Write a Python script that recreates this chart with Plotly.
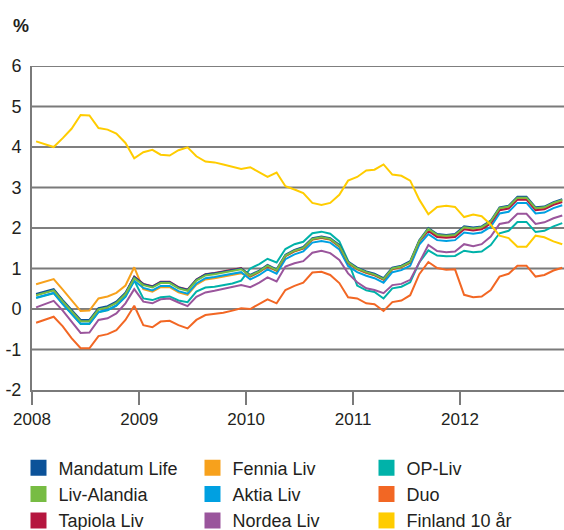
import plotly.graph_objects as go

# ---- data (monthly, Jan 2008 - Dec 2012) ----
years = [2008, 2009, 2010, 2011, 2012]
year_labels = ["2008", "2009", "2010", "2011", "2012"]
months = [f"{y}-{m:02d}-15" for y in years for m in range(1, 13)]

mandatum = [0.37, 0.43, 0.49, 0.22, -0.03, -0.27, -0.27, 0.02, 0.07, 0.18, 0.40, 0.79,
            0.61, 0.55, 0.66, 0.66, 0.53, 0.47, 0.72, 0.85, 0.88, 0.92, 0.95, 1.00,
            0.84, 0.95, 1.09, 0.98, 1.34, 1.46, 1.53, 1.75, 1.79, 1.75, 1.58, 1.17,
            1.02, 0.93, 0.87, 0.76, 1.02, 1.07, 1.18, 1.70, 2.00, 1.85, 1.83, 1.85,
            2.04, 2.01, 2.04, 2.18, 2.51, 2.55, 2.77, 2.77, 2.51, 2.53, 2.64, 2.71]
liv_alandia = [0.34, 0.40, 0.46, 0.19, -0.06, -0.30, -0.30, -0.01, 0.04, 0.15, 0.37, 0.76,
               0.59, 0.53, 0.64, 0.64, 0.51, 0.45, 0.70, 0.83, 0.86, 0.90, 0.93, 0.98,
               0.82, 0.93, 1.07, 0.96, 1.32, 1.44, 1.51, 1.73, 1.77, 1.73, 1.56, 1.15,
               1.00, 0.91, 0.85, 0.74, 1.00, 1.05, 1.16, 1.68, 1.98, 1.83, 1.81, 1.83,
               2.02, 1.99, 2.02, 2.16, 2.49, 2.53, 2.75, 2.75, 2.49, 2.51, 2.62, 2.69]
tapiola = [0.35, 0.41, 0.47, 0.20, -0.05, -0.29, -0.29, 0.00, 0.05, 0.16, 0.38, 0.80,
           0.62, 0.56, 0.67, 0.67, 0.54, 0.48, 0.73, 0.86, 0.89, 0.93, 0.96, 1.01,
           0.81, 0.92, 1.06, 0.95, 1.31, 1.43, 1.50, 1.72, 1.76, 1.72, 1.55, 1.14,
           0.99, 0.90, 0.84, 0.73, 0.99, 1.04, 1.15, 1.67, 1.93, 1.78, 1.76, 1.78,
           1.97, 1.94, 1.97, 2.11, 2.44, 2.48, 2.70, 2.70, 2.44, 2.46, 2.57, 2.64]
fennia = [0.61, 0.68, 0.74, 0.48, 0.22, -0.05, -0.04, 0.26, 0.31, 0.40, 0.58, 1.03,
          0.49, 0.43, 0.54, 0.54, 0.41, 0.35, 0.60, 0.73, 0.76, 0.80, 0.83, 0.88,
          0.80, 0.91, 1.05, 0.94, 1.30, 1.42, 1.49, 1.71, 1.75, 1.71, 1.54, 1.13,
          0.98, 0.89, 0.83, 0.72, 0.98, 1.03, 1.14, 1.66, 1.96, 1.81, 1.79, 1.81,
          2.00, 1.97, 2.00, 2.14, 2.47, 2.51, 2.73, 2.73, 2.47, 2.49, 2.60, 2.67]
aktia = [0.28, 0.34, 0.40, 0.13, -0.12, -0.36, -0.36, -0.07, -0.02, 0.09, 0.31, 0.70,
         0.52, 0.46, 0.57, 0.57, 0.44, 0.38, 0.63, 0.76, 0.79, 0.83, 0.86, 0.91,
         0.73, 0.84, 0.98, 0.87, 1.23, 1.35, 1.42, 1.64, 1.68, 1.64, 1.47, 1.06,
         0.91, 0.82, 0.76, 0.65, 0.91, 0.96, 1.07, 1.59, 1.85, 1.70, 1.68, 1.70,
         1.89, 1.86, 1.89, 2.03, 2.36, 2.40, 2.62, 2.62, 2.36, 2.38, 2.49, 2.56]
op_liv = [0.27, 0.33, 0.39, 0.12, -0.13, -0.37, -0.37, -0.08, -0.03, 0.08, 0.30, 0.70,
          0.26, 0.22, 0.29, 0.31, 0.21, 0.17, 0.43, 0.53, 0.55, 0.59, 0.63, 0.70,
          1.00, 1.11, 1.24, 1.15, 1.48, 1.60, 1.66, 1.87, 1.91, 1.86, 1.67, 1.19,
          0.58, 0.46, 0.42, 0.26, 0.51, 0.55, 0.66, 1.15, 1.45, 1.32, 1.30, 1.31,
          1.44, 1.40, 1.42, 1.58, 1.87, 1.93, 2.15, 2.15, 1.90, 1.93, 2.04, 2.12]
duo = [-0.34, -0.27, -0.19, -0.43, -0.72, -0.97, -0.97, -0.67, -0.62, -0.52, -0.27, 0.08,
       -0.40, -0.45, -0.31, -0.29, -0.40, -0.48, -0.27, -0.15, -0.12, -0.09, -0.04, 0.02,
       0.00, 0.12, 0.24, 0.14, 0.47, 0.57, 0.65, 0.90, 0.92, 0.84, 0.64, 0.29,
       0.26, 0.14, 0.12, -0.05, 0.17, 0.21, 0.34, 0.86, 1.16, 1.01, 0.97, 0.98,
       0.35, 0.29, 0.31, 0.47, 0.80, 0.87, 1.07, 1.07, 0.80, 0.84, 0.95, 1.02]
nordea = [0.04, 0.12, 0.20, -0.04, -0.30, -0.59, -0.58, -0.27, -0.23, -0.11, 0.14, 0.49,
          0.18, 0.14, 0.24, 0.26, 0.16, 0.07, 0.30, 0.41, 0.45, 0.49, 0.54, 0.59,
          0.54, 0.65, 0.78, 0.68, 1.05, 1.13, 1.18, 1.39, 1.44, 1.38, 1.21, 0.88,
          0.66, 0.51, 0.47, 0.39, 0.59, 0.62, 0.72, 1.17, 1.58, 1.43, 1.40, 1.42,
          1.60, 1.55, 1.60, 1.79, 2.10, 2.14, 2.35, 2.35, 2.10, 2.14, 2.24, 2.31]
finland10 = [4.14, 4.07, 4.00, 4.22, 4.45, 4.79, 4.78, 4.47, 4.43, 4.33, 4.10, 3.72,
             3.87, 3.93, 3.81, 3.79, 3.92, 3.99, 3.77, 3.64, 3.62, 3.57, 3.52, 3.46,
             3.50, 3.37, 3.26, 3.37, 3.03, 2.95, 2.86, 2.62, 2.57, 2.62, 2.82, 3.17,
             3.26, 3.42, 3.44, 3.57, 3.32, 3.29, 3.17, 2.70, 2.34, 2.52, 2.55, 2.52,
             2.27, 2.33, 2.29, 2.08, 1.81, 1.75, 1.54, 1.54, 1.81, 1.77, 1.67, 1.60]

y_ticks = [-2, -1, 0, 1, 2, 3, 4, 5, 6]

series = {
    "Mandatum Life": (mandatum, "#0b5299"),
    "Liv-Alandia": (liv_alandia, "#77bc43"),
    "Tapiola Liv": (tapiola, "#b5163f"),
    "Fennia Liv": (fennia, "#f7a11c"),
    "Aktia Liv": (aktia, "#00a0e1"),
    "OP-Liv": (op_liv, "#00b2a9"),
    "Duo": (duo, "#f26724"),
    "Nordea Liv": (nordea, "#9a559c"),
    "Finland 10 år": (finland10, "#ffcc00"),
}

draw_order = ["OP-Liv", "Duo", "Nordea Liv", "Fennia Liv", "Aktia Liv",
              "Tapiola Liv", "Mandatum Life", "Liv-Alandia", "Finland 10 år"]
legend_order = ["Mandatum Life", "Fennia Liv", "OP-Liv",
                "Liv-Alandia", "Aktia Liv", "Duo",
                "Tapiola Liv", "Nordea Liv", "Finland 10 år"]

fig = go.Figure()
for name in draw_order:
    vals, col = series[name]
    fig.add_trace(go.Scatter(x=months, y=vals, mode="lines", name=name,
                             line=dict(color=col, width=2), showlegend=False,
                             hoverinfo="skip"))
for name in legend_order:
    vals, col = series[name]
    fig.add_trace(go.Scatter(x=[None], y=[None], mode="markers", name=name,
                             marker=dict(symbol="square", size=16, color=col),
                             showlegend=True))

# alternating grid lines
shapes = []
for v in y_ticks:
    if v == -2:
        continue
    if v % 2 == 0:
        shapes.append(dict(type="line", xref="paper", x0=0, x1=1, yref="y", y0=v, y1=v,
                           line=dict(color="#000000", width=1.2), layer="below"))
    else:
        shapes.append(dict(type="line", xref="paper", x0=0, x1=1, yref="y", y0=v, y1=v,
                           line=dict(color="#7a7a7a", width=2), layer="below"))

fig.update_layout(
    width=564, height=530,
    margin=dict(l=32, r=0, t=66, b=140, autoexpand=False),
    paper_bgcolor="white", plot_bgcolor="white",
    font=dict(family="Liberation Sans, Arial, sans-serif", size=17, color="#231f20"),
    shapes=shapes,
    showlegend=True,
    legend=dict(orientation="h", xref="container", yref="container",
                x=0.0328, y=0.152, xanchor="left", yanchor="top",
                entrywidth=129, entrywidthmode="pixels",
                font=dict(size=18, color="#231f20"), itemsizing="trace",
                bgcolor="rgba(0,0,0,0)"),
    annotations=[dict(text="<b>%</b>", xref="paper", yref="paper",
                      x=-0.040, y=1.125, xanchor="left", yanchor="middle",
                      showarrow=False, font=dict(size=18, color="#231f20"))],
)
fig.update_xaxes(type="date", range=["2008-01-01", "2012-12-21"],
                 tickvals=[f"{y}-01-01" for y in years], ticktext=year_labels,
                 ticks="outside", ticklen=13, tickwidth=2, tickcolor="#7a7a7a",
                 showline=True, linecolor="#7a7a7a", linewidth=2,
                 showgrid=False, zeroline=False, tickfont=dict(size=17))
fig.update_yaxes(range=[-2, 6], tickvals=y_ticks, ticktext=[str(v) for v in y_ticks],
                 showline=True, linecolor="#7a7a7a", linewidth=2,
                 showgrid=False, zeroline=False, ticks="", ticklabelstandoff=5,
                 tickfont=dict(size=18))

fig.write_html("out.html", config={"displayModeBar": False},
               post_script="document.body.style.margin='0';")
